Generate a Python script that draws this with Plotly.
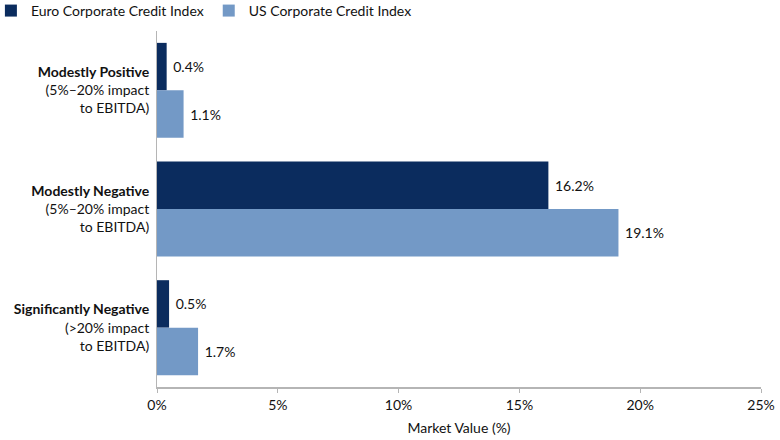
import plotly.graph_objects as go

categories = [
    "<b>Modestly Positive</b><br>(5%–20% impact<br>to EBITDA)",
    "<b>Modestly Negative</b><br>(5%–20% impact<br>to EBITDA)",
    "<b>Significantly Negative</b><br>(>20% impact<br>to EBITDA)",
]
euro_values = [0.4, 16.2, 0.5]
us_values = [1.1, 19.1, 1.7]
series_names = ["Euro Corporate Credit Index", "US Corporate Credit Index"]
x_ticks = [0, 5, 10, 15, 20, 25]
x_tick_labels = ["0%", "5%", "10%", "15%", "20%", "25%"]

colors = ["#0b2c5e", "#7399c6"]
font_family = "Lato, 'Open Sans', sans-serif"

fig = go.Figure()
for name, vals, col in zip(series_names, [euro_values, us_values], colors):
    fig.add_trace(go.Bar(
        y=categories, x=vals, name=name, orientation="h",
        marker=dict(color=col, line=dict(width=0)),
        text=[f" {v:.1f}%" for v in vals], textposition="outside",
        textfont=dict(size=14, color="#111", family=font_family),
        cliponaxis=False,
    ))

fig.update_layout(
    width=780, height=440,
    margin=dict(l=157, r=19, t=31, b=53, autoexpand=False),
    paper_bgcolor="white", plot_bgcolor="white",
    barmode="group", bargap=0.2, bargroupgap=0,
    font=dict(family=font_family, size=14, color="#111"),
    showlegend=True,
    legend=dict(orientation="h", x=-0.275, y=1.1012, xref="paper", yref="paper",
                xanchor="left", yanchor="top", font=dict(size=14),
                itemwidth=30, traceorder="normal", bgcolor="rgba(0,0,0,0)"),
    xaxis=dict(range=[0, 25], tickvals=x_ticks, ticktext=x_tick_labels,
               showgrid=False, zeroline=False, showline=True, linecolor="#b5b5b5",
               linewidth=2, ticks="outside", ticklen=4, tickcolor="#b5b5b5",
               automargin=False,
               title=dict(text="Market Value (%)", standoff=11, font=dict(size=14))),
    yaxis=dict(autorange="reversed", showgrid=False, zeroline=False, showline=True,
               linecolor="#b5b5b5", linewidth=1, ticks="", ticklabelstandoff=4,
               automargin=False, tickfont=dict(size=14)),
)

fig.write_html("out.html", config={"displayModeBar": False},
               post_script="document.body.style.margin='0';")
